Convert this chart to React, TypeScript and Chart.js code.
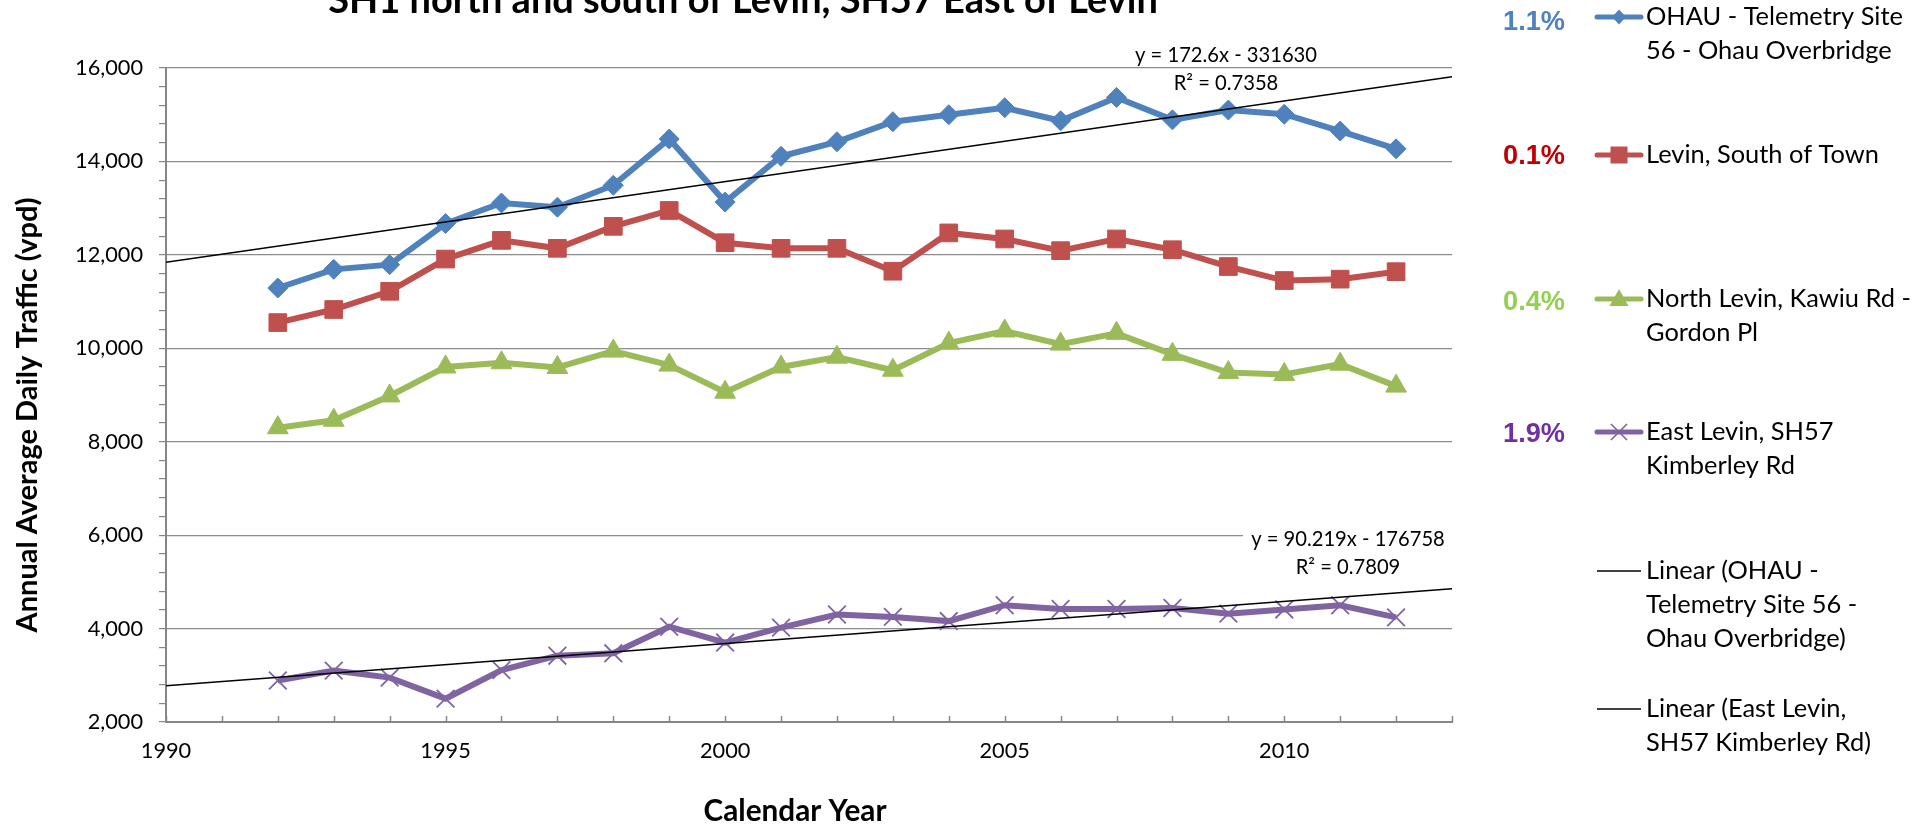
import React, { useEffect, useRef } from "react";
import { Chart, registerables } from "chart.js";

Chart.register(...registerables);

const FONT = "Lato, 'Open Sans', sans-serif";

// ---------- data ----------
const years = [1992, 1993, 1994, 1995, 1996, 1997, 1998, 1999, 2000, 2001, 2002, 2003, 2004, 2005, 2006, 2007, 2008, 2009, 2010, 2011, 2012];
const ohau = [11290, 11690, 11790, 12670, 13110, 13020, 13490, 14480, 13130, 14110, 14420, 14850, 15000, 15150, 14870, 15370, 14890, 15100, 15010, 14650, 14270];
const levinSouth = [10550, 10830, 11220, 11910, 12310, 12140, 12610, 12950, 12260, 12140, 12140, 11650, 12470, 12340, 12090, 12340, 12110, 11750, 11450, 11480, 11640];
const northLevin = [8300, 8460, 8980, 9600, 9690, 9590, 9940, 9640, 9060, 9600, 9810, 9530, 10110, 10370, 10090, 10320, 9870, 9480, 9440, 9660, 9190];
const eastLevin = [2890, 3100, 2950, 2500, 3110, 3420, 3470, 4040, 3700, 4020, 4300, 4250, 4160, 4500, 4420, 4420, 4440, 4320, 4410, 4500, 4240];

const trendYears = [1990, 2013];
const ohauTrend = [11844, 15814];
const eastTrend = [2778, 4853];

const seriesNames = [
  "OHAU - Telemetry Site 56 - Ohau Overbridge",
  "Levin, South of Town",
  "North Levin, Kawiu Rd - Gordon Pl",
  "East Levin, SH57 Kimberley Rd",
  "Linear (OHAU - Telemetry Site 56 - Ohau Overbridge)",
  "Linear (East Levin, SH57 Kimberley Rd)",
];
const legendLines = [
  ["OHAU - Telemetry Site", "56 - Ohau Overbridge"],
  ["Levin, South of Town"],
  ["North Levin, Kawiu Rd -", "Gordon Pl"],
  ["East Levin, SH57", "Kimberley Rd"],
  ["Linear (OHAU -", "Telemetry Site 56 -", "Ohau Overbridge)"],
  ["Linear (East Levin,", "SH57 Kimberley Rd)"],
];
const growthLabels = ["1.1%", "0.1%", "0.4%", "1.9%"];
const ohauEquation = ["y = 172.6x - 331630", "R² = 0.7358"];
const eastEquation = ["y = 90.219x - 176758", "R² = 0.7809"];

const titleText = "SH1 north and south of Levin, SH57 East of Levin";
const xTitle = "Calendar Year";
const yTitle = "Annual Average Daily Traffic (vpd)";

const xMin = 1990;
const xMax = 2013;
const yMin = 2000;
const yMax = 16000;

const BLUE = "#4F81BD";
const RED = "#C0504D";
const GREEN = "#9BBB59";
const PURPLE = "#8064A2";
const growthColors = ["#4F81BD", "#C00000", "#92D050", "#7030A0"];

function fitSize(ctx: CanvasRenderingContext2D, text: string, weight: string, family: string, target: number) {
  ctx.font = `${weight} 100px ${family}`;
  const w = ctx.measureText(text).width;
  return (100 * target) / w;
}

function drawMarker(ctx: CanvasRenderingContext2D, kind: string, x: number, y: number, color: string) {
  ctx.save();
  ctx.fillStyle = color;
  ctx.strokeStyle = color;
  ctx.beginPath();
  if (kind === "diamond") {
    ctx.moveTo(x, y - 7.5);
    ctx.lineTo(x + 7, y);
    ctx.lineTo(x, y + 7.5);
    ctx.lineTo(x - 7, y);
    ctx.closePath();
    ctx.fill();
  } else if (kind === "square") {
    ctx.rect(x - 8.5, y - 8.5, 17, 17);
    ctx.fill();
  } else if (kind === "triangle") {
    ctx.moveTo(x, y - 10);
    ctx.lineTo(x + 9.5, y + 7);
    ctx.lineTo(x - 9.5, y + 7);
    ctx.closePath();
    ctx.fill();
  } else if (kind === "cross") {
    ctx.lineWidth = 1.6;
    ctx.moveTo(x - 8, y - 8);
    ctx.lineTo(x + 8, y + 8);
    ctx.moveTo(x + 8, y - 8);
    ctx.lineTo(x - 8, y + 8);
    ctx.stroke();
  }
  ctx.restore();
}

export default function App() {
  const ref = useRef<HTMLCanvasElement>(null);

  useEffect(() => {
    const canvas = ref.current!;
    const mctx = canvas.getContext("2d")!;
    const tickSize = fitSize(mctx, "16,000", "normal", FONT, 68);

    const pts = (xs: number[], vs: number[]) => xs.map((x, i) => ({ x, y: vs[i] }));

    const decor = {
      id: "decor",
      beforeDatasetsDraw(chart: any) {
        const ctx = chart.ctx as CanvasRenderingContext2D;
        const ca = chart.chartArea;
        const xs = chart.scales.x;
        // inner x tick marks
        ctx.save();
        ctx.strokeStyle = "#868686";
        ctx.lineWidth = 1.5;
        for (let v = xMin; v <= xMax; v++) {
          const px = Math.round(xs.getPixelForValue(v)) + 0.5;
          ctx.beginPath();
          ctx.moveTo(px, ca.bottom);
          ctx.lineTo(px, ca.bottom - 6);
          ctx.stroke();
        }
        // white box behind second equation label
        ctx.fillStyle = "#ffffff";
        ctx.fillRect(ca.right - 209, ca.bottom - 197, 212, 54);
        ctx.restore();
      },
      afterDraw(chart: any) {
        const ctx = chart.ctx as CanvasRenderingContext2D;
        const ca = chart.chartArea;
        ctx.save();
        ctx.fillStyle = "#000";

        // title (partly cut off at the top)
        const ts = fitSize(ctx, titleText, "bold", FONT, 830);
        ctx.font = `bold ${ts}px ${FONT}`;
        ctx.textAlign = "center";
        ctx.textBaseline = "alphabetic";
        ctx.fillText(titleText, 743, 13);

        // x axis title
        const xts = fitSize(ctx, xTitle, "bold", FONT, 183);
        ctx.font = `bold ${xts}px ${FONT}`;
        ctx.textBaseline = "middle";
        ctx.fillText(xTitle, 795, 811);

        // y axis title
        const yts = fitSize(ctx, yTitle, "bold", FONT, 435);
        ctx.save();
        ctx.translate(28, 415);
        ctx.rotate(-Math.PI / 2);
        ctx.font = `bold ${yts}px ${FONT}`;
        ctx.textAlign = "center";
        ctx.textBaseline = "middle";
        ctx.fillText(yTitle, 0, 0);
        ctx.restore();

        // equations
        const es = fitSize(ctx, ohauEquation[0], "normal", FONT, 182);
        ctx.font = `normal ${es}px ${FONT}`;
        ctx.textAlign = "center";
        ctx.textBaseline = "middle";
        ctx.fillText(ohauEquation[0], ca.right - 226, ca.top - 13);
        ctx.fillText(ohauEquation[1], ca.right - 226, ca.top + 15);
        ctx.fillText(eastEquation[0], ca.right - 104, ca.bottom - 183);
        ctx.fillText(eastEquation[1], ca.right - 104, ca.bottom - 155);

        // legend
        const ls = fitSize(ctx, "Levin, South of Town", "normal", FONT, 233);
        const lineYs = [17, 155, 299, 432, 571, 709];
        const colors = [BLUE, RED, GREEN, PURPLE, "#000", "#000"];
        const markers = ["diamond", "square", "triangle", "cross", "", ""];
        for (let i = 0; i < legendLines.length; i++) {
          const y0 = lineYs[i];
          ctx.save();
          ctx.strokeStyle = colors[i];
          ctx.lineWidth = i < 4 ? 5 : 1.5;
          ctx.lineCap = i < 4 ? "round" : "butt";
          ctx.beginPath();
          ctx.moveTo(1597, y0);
          ctx.lineTo(1641, y0);
          ctx.stroke();
          ctx.restore();
          if (markers[i]) drawMarker(ctx, markers[i], 1619, y0, colors[i]);
          ctx.font = `normal ${ls}px ${FONT}`;
          ctx.fillStyle = "#000";
          ctx.textAlign = "left";
          ctx.textBaseline = "middle";
          legendLines[i].forEach((t, j) => ctx.fillText(t, 1646, y0 + j * 34));
        }

        // growth percentages
        const gs = fitSize(ctx, "1.1%", "bold", "'Liberation Sans', Arial, sans-serif", 62);
        const gYs = [23, 157, 303, 435];
        ctx.font = `bold ${gs}px 'Liberation Sans', Arial, sans-serif`;
        ctx.textAlign = "right";
        ctx.textBaseline = "middle";
        growthLabels.forEach((t, i) => {
          ctx.fillStyle = growthColors[i];
          ctx.fillText(t, 1565, gYs[i]);
        });
        ctx.restore();
      },
    };

    const chart = new Chart(canvas, {
      type: "line",
      data: {
        datasets: [
          {
            label: seriesNames[0],
            data: pts(years, ohau),
            borderColor: BLUE,
            backgroundColor: BLUE,
            borderWidth: 6,
            pointStyle: "rectRot",
            pointRadius: 10,
            pointBorderWidth: 1,
            pointBorderColor: BLUE,
            pointBackgroundColor: BLUE,
            order: 1,
          },
          {
            label: seriesNames[1],
            data: pts(years, levinSouth),
            borderColor: RED,
            backgroundColor: RED,
            borderWidth: 6,
            pointStyle: "rect",
            pointRadius: 12.5,
            pointBorderWidth: 1,
            pointBorderColor: RED,
            pointBackgroundColor: RED,
            order: 1,
          },
          {
            label: seriesNames[2],
            data: pts(years, northLevin),
            borderColor: GREEN,
            backgroundColor: GREEN,
            borderWidth: 6,
            pointStyle: "triangle",
            pointRadius: 12,
            pointBorderWidth: 1,
            pointBorderColor: GREEN,
            pointBackgroundColor: GREEN,
            order: 1,
          },
          {
            label: seriesNames[3],
            data: pts(years, eastLevin),
            borderColor: PURPLE,
            backgroundColor: PURPLE,
            borderWidth: 6,
            pointStyle: "crossRot",
            pointRadius: 12.5,
            pointBorderWidth: 1.8,
            pointBorderColor: PURPLE,
            pointBackgroundColor: PURPLE,
            order: 1,
          },
          {
            label: seriesNames[4],
            data: pts(trendYears, ohauTrend),
            borderColor: "#000",
            borderWidth: 1.5,
            pointRadius: 0,
            order: 0,
          },
          {
            label: seriesNames[5],
            data: pts(trendYears, eastTrend),
            borderColor: "#000",
            borderWidth: 1.5,
            pointRadius: 0,
            order: 0,
          },
        ],
      },
      options: {
        responsive: false,
        animation: false,
        devicePixelRatio: 1,
        layout: { padding: { top: 68, right: 480, bottom: 0, left: 0 } },
        plugins: {
          legend: { display: false },
          tooltip: { enabled: false },
          title: { display: false },
        },
        scales: {
          x: {
            type: "linear",
            min: xMin,
            max: xMax,
            afterFit: (s: any) => {
              s.height = 105;
            },
            border: { color: "#868686", width: 2 },
            grid: { drawOnChartArea: false, drawTicks: false },
            ticks: {
              stepSize: 1,
              autoSkip: false,
              maxRotation: 0,
              padding: 16,
              color: "#000",
              font: { family: FONT, size: tickSize },
              callback: (v: any) => (Number(v) % 5 === 0 ? String(v) : ""),
            },
          },
          y: {
            type: "linear",
            min: yMin,
            max: yMax,
            afterFit: (s: any) => {
              s.width = 166;
            },
            border: { color: "#868686", width: 2 },
            grid: {
              color: (c: any) => (c.tick && c.tick.value % 2000 === 0 ? "#8c8c8c" : "rgba(0,0,0,0)"),
              lineWidth: 1.2,
              tickColor: "#868686",
              tickLength: 7,
              drawTicks: true,
            },
            ticks: {
              stepSize: 400,
              autoSkip: false,
              padding: 16,
              color: "#000",
              font: { family: FONT, size: tickSize },
              callback: (v: any) => (Number(v) % 2000 === 0 ? Number(v).toLocaleString("en-US") : ""),
            },
          },
        },
      },
      plugins: [decor],
    } as any);

    return () => chart.destroy();
  }, []);

  return (
    <div style={{ position: "fixed", left: 0, top: 0, width: 1932, height: 827, background: "#fff" }}>
      <canvas ref={ref} width={1932} height={827} style={{ width: 1932, height: 827, display: "block" }} />
    </div>
  );
}
